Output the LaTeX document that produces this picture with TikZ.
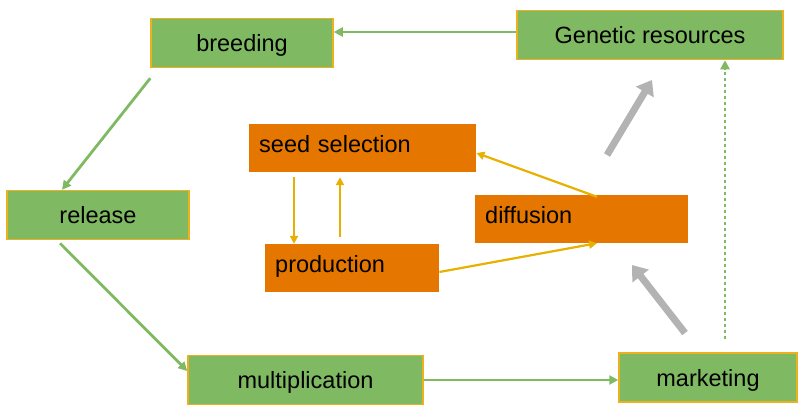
\documentclass[tikz,border=0pt]{standalone}
\usepackage{fontspec}
\setmainfont{Liberation Sans}
\usetikzlibrary{arrows.meta}
\definecolor{leaf}{HTML}{7FBA63}
\definecolor{gold}{HTML}{EDB120}
\definecolor{rust}{HTML}{E57700}
\definecolor{amber}{HTML}{E8B000}
\definecolor{ash}{HTML}{B3B3B3}
\begin{document}
\begin{tikzpicture}[x=1pt, y=-1pt,
	greenbox/.style={draw=gold, line width=1.5pt, fill=leaf, inner sep=0pt, minimum height=49pt, text height=17pt, text depth=0pt},
	orangebox/.style={fill=rust, inner xsep=10pt, inner ysep=0pt, minimum height=48pt, text height=9pt, text depth=0pt, align=left, anchor=west},
	greenarrow/.style={draw=leaf, line width=2.8pt, -{Triangle[length=9pt, width=9pt]}},
	yellowarrow/.style={draw=amber, line width=2.2pt, -{Triangle[length=8pt, width=8pt]}},
	greyarrow/.style={draw=ash, line width=7pt, -{Triangle[length=14pt, width=20pt]}},
	font=\fontsize{23.5}{28}\selectfont]
		\useasboundingbox (0,0) rectangle (799,404);
		\node[greenbox, minimum width=182pt] (breeding) at (242,43) {breeding};
		\node[greenbox, minimum width=266pt] (genetic) at (650,35) {Genetic resources};
		\node[greenbox, minimum width=182pt] (release) at (98,215) {release};
		\node[greenbox, minimum width=235pt] (multiplication) at (305.5,380) {multiplication};
		\node[greenbox, minimum width=178pt] (marketing) at (708,377.5) {marketing};
		\node[orangebox, text width=207pt] (seedsel) at (249,148) {seed selection};
		\node[orangebox, text width=154pt] (production) at (265,268) {production};
		\node[orangebox, text width=193pt] (diffusion) at (475,219) {diffusion};
		\draw[greenarrow] ([yshift=3pt]genetic.west) -- ([yshift=3pt]genetic.west -| breeding.east);
		\draw[greenarrow] ([yshift=-10pt]breeding.south west) -- ([xshift=-36pt]release.north);
		\draw[greenarrow] ([xshift=-38pt, yshift=-3pt]release.south) -- ([yshift=9pt]multiplication.west);
		\draw[greenarrow] (multiplication.east) -- (multiplication.east -| marketing.west);
		\coordinate (dotbase) at ([xshift=17pt, yshift=13pt]marketing.north);
		\draw[greenarrow, dash pattern=on 3pt off 3pt] (dotbase) -- (dotbase |- genetic.south);
		\coordinate (greyA) at (607,155);
		\coordinate (greyB) at (652,80);
		\coordinate (greyC) at (685,333);
		\coordinate (greyD) at (632,265);
		\draw[greyarrow] (greyA) -- (greyB);
		\draw[greyarrow] (greyC) -- (greyD);
		\coordinate (downtop) at ([xshift=45pt, yshift=-5pt]seedsel.south west);
		\draw[yellowarrow] (downtop) -- (downtop |- production.north);
		\coordinate (upbase) at ([xshift=75pt, yshift=7pt]production.north west);
		\draw[yellowarrow, shorten >=5pt] (upbase) -- (upbase |- seedsel.south);
		\draw[yellowarrow] ([xshift=122pt, yshift=-2pt]diffusion.north west) -- ([yshift=-5pt]seedsel.east);
		\draw[yellowarrow] ([yshift=-4pt]production.east) -- ([xshift=122pt]diffusion.south west);
	\end{tikzpicture}
\end{document}
